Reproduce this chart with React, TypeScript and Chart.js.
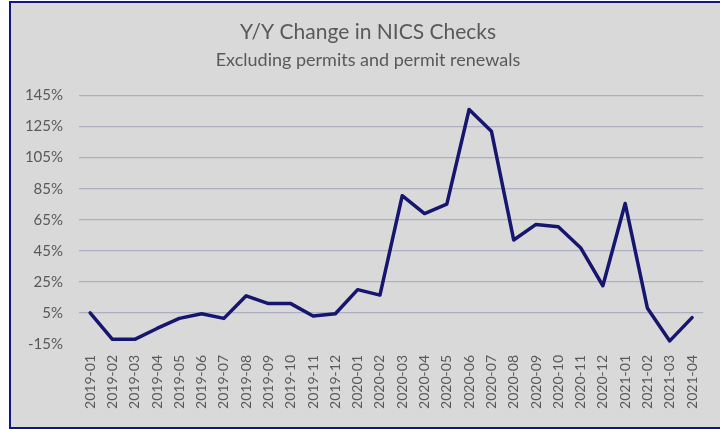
import React, { useEffect, useRef } from "react";
import { Chart, registerables } from "chart.js";

Chart.register(...registerables);

const months: string[] = [
  "2019-01", "2019-02", "2019-03", "2019-04", "2019-05", "2019-06", "2019-07",
  "2019-08", "2019-09", "2019-10", "2019-11", "2019-12",
  "2020-01", "2020-02", "2020-03", "2020-04", "2020-05", "2020-06", "2020-07",
  "2020-08", "2020-09", "2020-10", "2020-11", "2020-12",
  "2021-01", "2021-02", "2021-03", "2021-04",
];

const yoyChange: number[] = [
  5, -12, -12, -5, 1.5, 4.5, 1.5, 16, 11, 11, 3, 4.5,
  20, 16.5, 80.5, 69, 75, 136, 122, 52, 62, 60.5, 47, 22.5,
  75.5, 8, -13, 2,
];

const titleText = "Y/Y Change in NICS Checks";
const subtitleText = "Excluding permits and permit renewals";
const yMin = -15;
const yMax = 145;
const yStep = 20;

export default function App() {
  const canvasRef = useRef<HTMLCanvasElement | null>(null);

  useEffect(() => {
    if (!canvasRef.current) return;
    const textColor = "#595959";
    const chart = new Chart(canvasRef.current, {
      type: "line",
      data: {
        labels: months,
        datasets: [
          {
            data: yoyChange,
            borderColor: "#16166e",
            borderWidth: 3.5,
            pointRadius: 0,
            tension: 0,
            fill: false,
            borderJoinStyle: "round",
            borderCapStyle: "round",
          },
        ],
      },
      options: {
        animation: false,
        responsive: false,
        layout: { padding: { top: 0, left: 14, right: 9, bottom: 0 } },
        plugins: {
          legend: { display: false },
          tooltip: { enabled: false },
          title: {
            display: true,
            text: titleText,
            color: textColor,
            font: { family: "Lato", size: 21, weight: "normal" },
            padding: { top: 17, bottom: 0 },
          },
          subtitle: {
            display: true,
            text: subtitleText,
            color: textColor,
            font: { family: "Lato", size: 18, weight: "normal" },
            padding: { top: 4, bottom: 24.7 },
          },
        },
        scales: {
          x: {
            offset: true,
            grid: { display: false, drawTicks: false },
            border: { display: false },
            ticks: {
              color: textColor,
              font: { family: "Lato", size: 14 },
              minRotation: 90,
              maxRotation: 90,
              autoSkip: false,
              padding: 11,
            },
            afterFit: (scale: any) => {
              scale.height = 83;
            },
          },
          y: {
            min: yMin,
            max: yMax,
            grid: {
              drawTicks: false,
              color: (ctx: any) =>
                ctx.tick && ctx.tick.value === yMin ? "rgba(0,0,0,0)" : "#aeaec2",
              lineWidth: 1.2,
            },
            border: { display: false },
            ticks: {
              stepSize: yStep,
              color: textColor,
              font: { family: "Lato", size: 15 },
              padding: 16,
              callback: (v: any) => v + "%",
            },
            afterFit: (scale: any) => {
              scale.width = 54;
            },
          },
        },
      },
    });
    return () => chart.destroy();
  }, []);

  return (
    <div
      style={{
        position: "absolute",
        left: 9,
        top: 1,
        width: 711,
        height: 428,
        boxSizing: "border-box",
        borderTop: "2px solid #14148a",
        borderBottom: "2px solid #14148a",
        borderLeft: "2px solid #14148a",
        background: "#d9d9d9",
        overflow: "hidden",
      }}
    >
      <canvas ref={canvasRef} width={709} height={424} style={{ display: "block" }} />
    </div>
  );
}
